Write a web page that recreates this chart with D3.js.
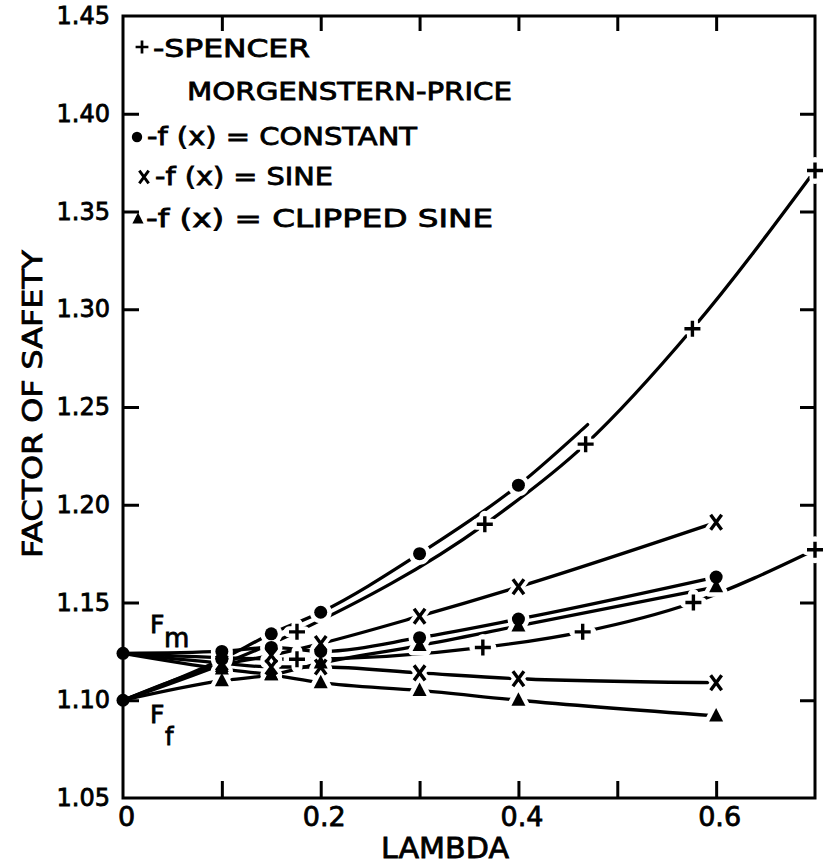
<!DOCTYPE html>
<html>
<head>
<meta charset="utf-8">
<script src="https://cdn.jsdelivr.net/npm/d3@7/dist/d3.min.js"></script>
<style>
  html, body { margin: 0; padding: 0; background: #fff; }
  svg { display: block; }
  text { font-family: "DejaVu Sans", sans-serif; fill: #000; stroke: #000; stroke-width: 0.8px; }
</style>
</head>
<body>
<svg id="chart" width="823" height="866"></svg>
<script>
// ---------------- DATA ----------------
const startLambda = 0;
const startFm = 1.124;
const startFf = 1.100;

const mpLambda = [0.1, 0.15, 0.2, 0.3, 0.4, 0.6];

const constFfLambda = [0.1, 0.15, 0.2, 0.3, 0.4];
const constFf = [1.121, 1.134, 1.145, 1.175, 1.210];
const constFfEnd = [0.47, 1.241];          // curve drawn past the last marker
const constFm = [1.125, 1.127, 1.125, 1.132, 1.1415, 1.163];

const sineFf = [1.118, 1.123, 1.129, 1.143, 1.158, 1.191];
const sineFm = [1.119, 1.117, 1.117, 1.114, 1.111, 1.109];

const clipFf = [1.110, 1.113, 1.119, 1.128, 1.138, 1.158];
const clipFm = [1.116, 1.113, 1.109, 1.105, 1.100, 1.092];

const spencerFfLambda = [0.176, 0.366, 0.468, 0.576, 0.70];
const spencerFf = [1.135, 1.190, 1.231, 1.290, 1.371];
const spencerFmLambda = [0.176, 0.364, 0.465, 0.577, 0.70];
const spencerFm = [1.121, 1.127, 1.135, 1.150, 1.177];

const yTickValues = [1.05, 1.10, 1.15, 1.20, 1.25, 1.30, 1.35, 1.40, 1.45];
const yMinorTicks = [1.10, 1.15, 1.20, 1.25, 1.30, 1.35, 1.40];
const xLabelValues = [0, 0.2, 0.4, 0.6];
const xMinorTicks = [0.1, 0.2, 0.3, 0.4, 0.5, 0.6];

const xTitle = "LAMBDA";
const yTitle = "FACTOR OF SAFETY";
const legendLines = ["-SPENCER", "MORGENSTERN-PRICE", "-f (x) = CONSTANT", "-f (x) = SINE", "-f (x) = CLIPPED  SINE"];

// ---------------- SETUP ----------------
const svg = d3.select("#chart");
svg.append("rect").attr("width", 823).attr("height", 866).attr("fill", "#fff");

const x = d3.scaleLinear().domain([0, 0.7]).range([123, 815]);
const y = d3.scaleLinear().domain([1.05, 1.45]).range([798, 16]);

const zip = (ls, vs) => ls.map((l, i) => [l, vs[i]]);

const series = [
  { type: "dot",   pts: zip(constFfLambda, constFf), start: startFf, tail: constFfEnd },
  { type: "dot",   pts: zip(mpLambda, constFm),      start: startFm },
  { type: "x",     pts: zip(mpLambda, sineFf),       start: startFf },
  { type: "x",     pts: zip(mpLambda, sineFm),       start: startFm },
  { type: "tri",   pts: zip(mpLambda, clipFf),       start: startFf },
  { type: "tri",   pts: zip(mpLambda, clipFm),       start: startFm },
  { type: "plus",  pts: zip(spencerFfLambda, spencerFf), start: startFf },
  { type: "plus",  pts: zip(spencerFmLambda, spencerFm), start: startFm }
];

// ---------------- FRAME & AXES ----------------
svg.append("rect")
  .attr("x", x(0)).attr("y", y(1.45))
  .attr("width", x(0.7) - x(0)).attr("height", y(1.05) - y(1.45))
  .attr("fill", "none").attr("stroke", "#000").attr("stroke-width", 3);

function styleTicks(g) {
  g.select(".domain").remove();
  g.selectAll(".tick line").attr("stroke", "#000").attr("stroke-width", 3);
  g.selectAll(".tick text").remove();
}
svg.append("g").attr("transform", `translate(0,${y(1.05)})`)
  .call(d3.axisBottom(x).tickValues(xMinorTicks).tickSizeInner(-17).tickSizeOuter(0)).call(styleTicks);
svg.append("g").attr("transform", `translate(0,${y(1.45)})`)
  .call(d3.axisTop(x).tickValues(xMinorTicks).tickSizeInner(-15).tickSizeOuter(0)).call(styleTicks);
svg.append("g").attr("transform", `translate(${x(0)},0)`)
  .call(d3.axisLeft(y).tickValues(yMinorTicks).tickSizeInner(-16).tickSizeOuter(0)).call(styleTicks);
svg.append("g").attr("transform", `translate(${x(0.7)},0)`)
  .call(d3.axisRight(y).tickValues(yMinorTicks).tickSizeInner(-15).tickSizeOuter(0)).call(styleTicks);

// tick labels via axes
const yLab = svg.append("g").attr("transform", `translate(${x(0) - 10},0)`)
  .call(d3.axisLeft(y).tickValues(yTickValues).tickSize(0).tickFormat(d3.format(".2f")));
yLab.select(".domain").remove();
yLab.selectAll(".tick text").attr("font-size", 24).attr("fill", "#000")
  .style("font-family", '"DejaVu Sans", sans-serif');

const xLab = svg.append("g").attr("transform", `translate(3,${y(1.05) + 6})`)
  .call(d3.axisBottom(x).tickValues(xLabelValues).tickSize(0)
    .tickFormat(d => d === 0 ? "0" : d3.format(".1f")(d)));
xLab.select(".domain").remove();
xLab.selectAll(".tick text").attr("font-size", 27).attr("fill", "#000")
  .style("font-family", '"DejaVu Sans", sans-serif');

// axis titles
svg.append("text").attr("x", 445).attr("y", 858).attr("text-anchor", "middle")
  .attr("font-size", 29).attr("textLength", 128).attr("lengthAdjust", "spacingAndGlyphs")
  .text(xTitle);
svg.append("text").attr("transform", "translate(42,404) rotate(-90)").attr("text-anchor", "middle")
  .attr("font-size", 27).attr("textLength", 308).attr("lengthAdjust", "spacingAndGlyphs")
  .text(yTitle);

// ---------------- CURVES ----------------
const line = d3.line().x(d => x(d[0])).y(d => y(d[1])).curve(d3.curveMonotoneX);
const curveG = svg.append("g");
series.forEach(s => {
  const pts = [[startLambda, s.start], ...s.pts];
  if (s.tail) pts.push(s.tail);
  curveG.append("path").attr("d", line(pts))
    .attr("fill", "none").attr("stroke", "#000").attr("stroke-width", 3.3)
    .attr("stroke-linecap", "round");
});

// ---------------- MARKERS ----------------
const markerPath = {
  plus: "M-8,0H8M0,-8V8",
  x: "M-5.5,-7.5L5.5,7.5M5.5,-7.5L-5.5,7.5",
  tri: "M0,-8L7,5.5H-7Z"
};
function drawMarker(g, type, cx, cy, halo, scale = 1) {
  const t = `translate(${cx},${cy}) scale(${scale})`;
  const col = halo ? "#fff" : "#000";
  if (type === "dot") {
    g.append("circle").attr("cx", cx).attr("cy", cy).attr("r", 6.5 * scale)
      .attr("fill", col).attr("stroke", halo ? "#fff" : "none").attr("stroke-width", halo ? 9 : 0);
  } else if (type === "tri") {
    g.append("path").attr("d", markerPath.tri).attr("transform", t)
      .attr("fill", col).attr("stroke", halo ? "#fff" : "none").attr("stroke-width", halo ? 9 : 0)
      .attr("stroke-linejoin", "round");
  } else {
    g.append("path").attr("d", markerPath[type]).attr("transform", t)
      .attr("fill", "none").attr("stroke", col).attr("stroke-width", halo ? 11 : 3.4)
      .attr("stroke-linecap", halo ? "round" : "butt");
  }
}
const haloG = svg.append("g");
const markG = svg.append("g");
series.forEach(s => {
  s.pts.forEach(p => drawMarker(haloG, s.type, x(p[0]), y(p[1]), true));
});
series.forEach(s => {
  s.pts.forEach(p => drawMarker(markG, s.type, x(p[0]), y(p[1]), false));
});
// common starting points at lambda = 0
[startFm, startFf].forEach(v => drawMarker(markG, "dot", x(startLambda), y(v), false));

// ---------------- F_m / F_f LABELS ----------------
svg.append("text").attr("x", 150).attr("y", 633).attr("font-size", 25).text("F");
svg.append("text").attr("x", 164).attr("y", 647).attr("font-size", 26).text("m");
svg.append("text").attr("x", 150).attr("y", 723).attr("font-size", 25).text("F");
svg.append("text").attr("x", 165).attr("y", 745).attr("font-size", 24).text("f");

// ---------------- LEGEND ----------------
const leg = svg.append("g");
drawMarker(leg, "plus", 142, 47, false, 0.8);
leg.append("text").attr("x", 153).attr("y", 57).attr("font-size", 25)
  .attr("textLength", 157).attr("lengthAdjust", "spacingAndGlyphs").text(legendLines[0]);
leg.append("text").attr("x", 187).attr("y", 100).attr("font-size", 25)
  .attr("textLength", 325).attr("lengthAdjust", "spacingAndGlyphs").text(legendLines[1]);
drawMarker(leg, "dot", 137, 137, false, 0.8);
leg.append("text").attr("x", 147).attr("y", 145).attr("font-size", 25)
  .attr("textLength", 270).attr("lengthAdjust", "spacingAndGlyphs").text(legendLines[2]);
drawMarker(leg, "x", 144, 177, false, 0.85);
leg.append("text").attr("x", 155).attr("y", 185).attr("font-size", 25)
  .attr("textLength", 178).attr("lengthAdjust", "spacingAndGlyphs").text(legendLines[3]);
drawMarker(leg, "tri", 138, 219, false, 0.8);
leg.append("text").attr("x", 146).attr("y", 227).attr("font-size", 25)
  .attr("textLength", 347).attr("lengthAdjust", "spacingAndGlyphs").text(legendLines[4]);
</script>
</body>
</html>
